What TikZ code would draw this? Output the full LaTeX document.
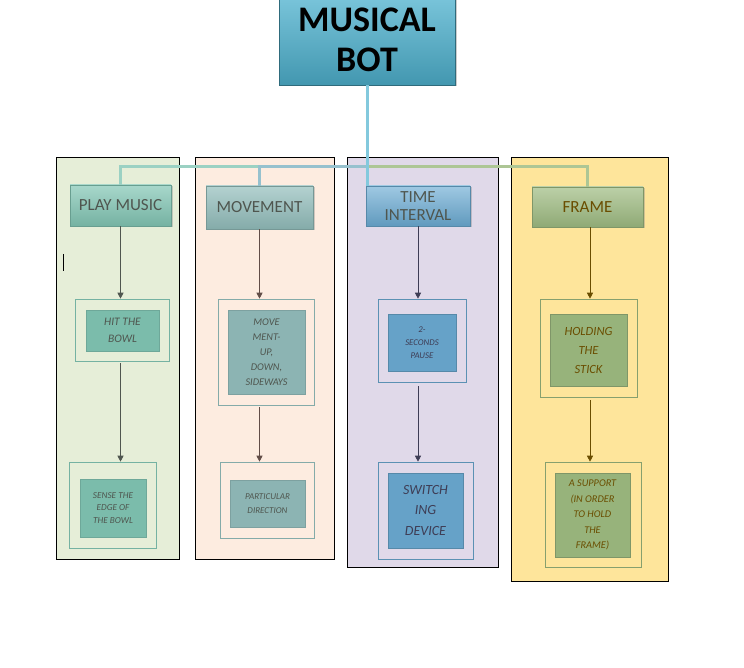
\documentclass[tikz,border=0pt]{standalone}
\usepackage{fontspec}
\setmainfont{Carlito}
\usepackage{tikz}
\usetikzlibrary{arrows.meta,shadows}

\definecolor{pgreen}{HTML}{E6EED8}
\definecolor{ppeach}{HTML}{FDECE0}
\definecolor{plilac}{HTML}{E0D9E9}
\definecolor{pyellow}{HTML}{FEE59B}
\definecolor{cteal}{HTML}{82C6B4}
\definecolor{cgrey}{HTML}{93BEBC}
\definecolor{cblue}{HTML}{6BABD3}
\definecolor{colive}{HTML}{9FBC82}
\definecolor{ccyan}{HTML}{4EB2CF}
\definecolor{tgrey}{HTML}{4F564F}
\definecolor{tplum}{HTML}{3E3D55}
\definecolor{tbrown}{HTML}{6A4D00}

\begin{document}
\begin{tikzpicture}[
		x=1pt,y=-1pt,
		panel/.style={draw=black,line width=0.8pt},
		head/.style={align=center,inner sep=0pt,text=tgrey,
			font=\fontsize{17}{18.5}\selectfont,
			drop shadow={shadow xshift=1.5pt,shadow yshift=-1.5pt,opacity=0.35}},
		outerbox/.style={draw,line width=0.6pt,inner sep=0pt},
		leaf/.style={draw,line width=0.6pt,align=center,inner sep=0pt,font=\itshape},
		link/.style={line width=3pt},
		flow/.style={-{Triangle[width=6pt,length=6pt]},line width=0.7pt}
	]
	\useasboundingbox (0,0) rectangle (744,668);
	\draw[panel,fill=pgreen] (56,157) rectangle (179,559);
	\draw[panel,fill=ppeach] (195,157) rectangle (334,559);
	\draw[panel,fill=plilac] (347,157) rectangle (498,567);
	\draw[panel,fill=pyellow] (511,157) rectangle (668,581);
	\draw[line width=0.6pt] (63,254) -- (63,271);

	\node[align=center,inner sep=0pt,minimum width=176pt,minimum height=90pt,
		top color=ccyan!75!white,bottom color=ccyan!85!black,
		draw=ccyan!60!black,font=\fontsize{36}{40}\selectfont\bfseries,
		drop shadow={shadow xshift=1.5pt,shadow yshift=-1.5pt,opacity=0.4}]
		(bot) at (367,40) {MUSICAL\\BOT};
	\coordinate (hub) at (367,167);

	\node[head,minimum width=101pt,minimum height=41pt,draw=cteal!80!black,
		top color=cteal!70!white,bottom color=cteal!90!black] (play) at (120.5,205.5) {PLAY MUSIC};
	\node[head,minimum width=107pt,minimum height=43pt,draw=cgrey!80!black,
		top color=cgrey!70!white,bottom color=cgrey!90!black] (move) at (259.5,207.5) {MOVEMENT};
	\node[head,minimum width=104pt,minimum height=40pt,draw=cblue!80!black,
		top color=cblue!65!white,bottom color=cblue!90!black] (time) at (418,206) {TIME\\INTERVAL};
	\node[head,minimum width=111pt,minimum height=40pt,draw=colive!80!black,text=tbrown,
		top color=colive!70!white,bottom color=colive!90!black] (frame) at (587.5,207) {FRAME};

	\draw[link,color=colive!85!white] (hub) -| (frame.north);
	\draw[link,color=cteal!80!white] (hub) -| (play.north);
	\draw[link,color=cgrey!60!cblue!85!white] (hub) -| (move.north);
	\draw[link,color=ccyan!70!white] (bot.south) -- (hub) -- (hub |- time.north);

	\node[outerbox,draw=cteal!90!black,minimum width=94pt,minimum height=62pt] (hitbox) at (122,330) {};
	\node[leaf,draw=cteal!85!black,fill=cteal!95!black,text=tgrey,minimum width=73pt,minimum height=41pt,
		font=\itshape\fontsize{11.5}{16.5}\selectfont] (hit) at (122.5,330.5) {HIT THE\\BOWL};
	\node[outerbox,draw=cteal!90!black,minimum width=87pt,minimum height=86pt] (sensebox) at (112.5,505) {};
	\node[leaf,draw=cteal!85!black,fill=cteal!95!black,text=tgrey,minimum width=66pt,minimum height=58pt,
		font=\itshape\fontsize{9.2}{12.7}\selectfont] (sense) at (113,508) {SENSE THE\\EDGE OF\\THE BOWL};

	\node[outerbox,draw=cgrey!90!black,minimum width=96pt,minimum height=106pt] (updownbox) at (266,352) {};
	\node[leaf,draw=cgrey!85!black,fill=cgrey!95!black,text=tgrey,minimum width=77pt,minimum height=84pt,
		font=\itshape\fontsize{10.3}{15}\selectfont] (updown) at (266.5,352) {MOVE\\MENT-\\UP,\\DOWN,\\SIDEWAYS};
	\node[outerbox,draw=cgrey!90!black,minimum width=94pt,minimum height=76pt] (dirbox) at (267,500) {};
	\node[leaf,draw=cgrey!85!black,fill=cgrey!95!black,text=tgrey,minimum width=75pt,minimum height=47pt,
		font=\itshape\fontsize{9}{13.3}\selectfont] (dir) at (267.5,503.5) {PARTICULAR\\DIRECTION};

	\node[outerbox,draw=cblue!85!black,minimum width=88pt,minimum height=83pt] (pausebox) at (422,340.5) {};
	\node[leaf,draw=cblue!80!black,fill=cblue!95!black,text=tplum,minimum width=68pt,minimum height=57pt,
		font=\itshape\fontsize{8.8}{13}\selectfont] (pause) at (422,342.5) {2-\\SECONDS\\PAUSE};
	\node[outerbox,draw=cblue!85!black,minimum width=95pt,minimum height=97pt] (switchbox) at (425.5,510.5) {};
	\node[leaf,draw=cblue!80!black,fill=cblue!95!black,text=tplum,minimum width=75pt,minimum height=75pt,
		font=\itshape\fontsize{14}{20.8}\selectfont] (switch) at (425.5,510.5) {SWITCH\\ING\\DEVICE};

	\node[outerbox,draw=colive!85!black,minimum width=97pt,minimum height=98pt] (stickbox) at (588.5,348) {};
	\node[leaf,draw=colive!80!black,fill=colive!95!black,text=tbrown,minimum width=77pt,minimum height=72pt,
		font=\itshape\fontsize{12.5}{19}\selectfont] (stick) at (588.5,350) {HOLDING\\THE\\STICK};
	\node[outerbox,draw=colive!85!black,minimum width=96pt,minimum height=105pt] (supportbox) at (593,514.5) {};
	\node[leaf,draw=colive!80!black,fill=colive!95!black,text=tbrown,minimum width=75pt,minimum height=84pt,
		font=\itshape\fontsize{10.3}{15.6}\selectfont] (support) at (592.5,515) {A SUPPORT\\(IN ORDER\\TO HOLD\\THE\\FRAME)};

	\draw[flow,color=tgrey] (play.south) -- (play.south |- hitbox.north);
	\draw[flow,color=tgrey,shorten <=2pt] (play.south |- hitbox.south) -- (play.south |- sensebox.north);
	\draw[flow,color=tgrey!90!red] (move.south) -- (move.south |- updownbox.north);
	\draw[flow,color=tgrey!90!red,shorten <=2pt] (move.south |- updownbox.south) -- (move.south |- dirbox.north);
	\draw[flow,color=tplum] (time.south) -- (time.south |- pausebox.north);
	\draw[flow,color=tplum,shorten <=4pt] (time.south |- pausebox.south) -- (time.south |- switchbox.north);
	\draw[flow,color=tbrown] (frame.south -| 590,0) -- (590,0 |- stickbox.north);
	\draw[flow,color=tbrown,shorten <=3pt] (590,0 |- stickbox.south) -- (590,0 |- supportbox.north);
\end{tikzpicture}
\end{document}
